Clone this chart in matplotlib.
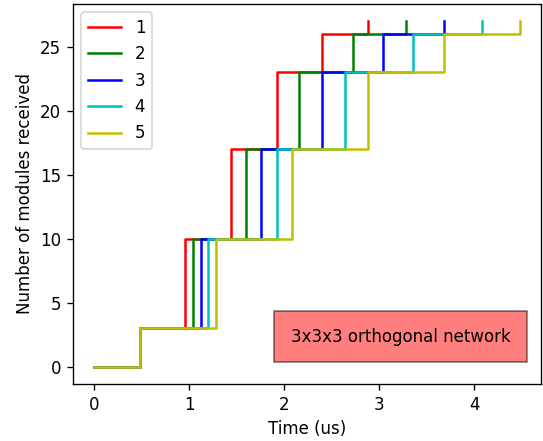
import matplotlib
matplotlib.use('Agg')
import matplotlib.pyplot as plt

# step times (us) at which modules arrive, one list per node
labels = ['1', '2', '3', '4', '5']
colors = ['r', 'g', 'b', 'c', 'y']
counts = [0, 3, 10, 17, 23, 26, 27]
times = [
    [0, 0.48, 0.96, 1.44, 1.92, 2.40, 2.88],
    [0, 0.48, 1.04, 1.60, 2.16, 2.72, 3.28],
    [0, 0.48, 1.12, 1.76, 2.40, 3.04, 3.68],
    [0, 0.48, 1.20, 1.92, 2.64, 3.36, 4.08],
    [0, 0.48, 1.28, 2.08, 2.88, 3.68, 4.48],
]

dpi = 120
fig = plt.figure(figsize=(543 / dpi, 441 / dpi), dpi=dpi)
ax = fig.add_axes([73 / 543, 1 - 384 / 441, 468 / 543, 380 / 441])

for t, c, lab in zip(times, colors, labels):
    ax.step(t, counts, where='post', color=c, label=lab)

ax.set_xlabel('Time (us)')
ax.set_ylabel('Number of modules received')
ax.legend(loc='upper left')
ax.text(0.70, 0.125, '3x3x3 orthogonal network', transform=ax.transAxes,
        ha='center', va='center',
        bbox=dict(facecolor='red', alpha=0.5, pad=10))

fig.savefig('out.png', dpi=dpi)
